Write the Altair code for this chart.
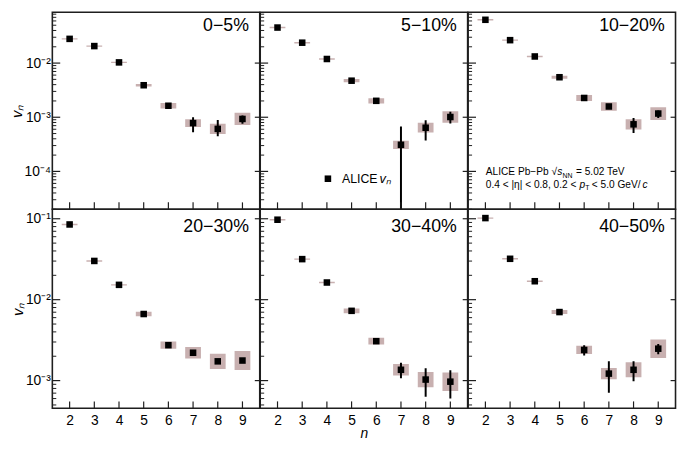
import altair as alt
import pandas as pd

# ---------------- data ----------------
harmonics = [2, 3, 4, 5, 6, 7, 8, 9]
centralities = ["0−5%", "5−10%", "10−20%", "20−30%", "30−40%", "40−50%"]

vn_0_5 = [0.028, 0.0206, 0.0103, 0.0039, 0.00163, 0.00078, 0.00061, 0.00093]
vn_5_10 = [0.0453, 0.0238, 0.0119, 0.00473, 0.00201, 0.00031, 0.00064, 0.00101]
vn_10_20 = [0.063, 0.0265, 0.01325, 0.00548, 0.00227, 0.00158, 0.00074, 0.00117]
vn_20_30 = [0.085, 0.0301, 0.01525, 0.00665, 0.00274, 0.00221, 0.00173, 0.00177]
vn_30_40 = [0.0973, 0.0317, 0.0163, 0.00728, 0.00307, 0.00136, 0.00103, 0.00097]
vn_40_50 = [0.1019, 0.032, 0.0169, 0.00703, 0.00239, 0.00122, 0.00136, 0.00248]

# statistical error bar ends (None = hidden behind the marker)
stat_lo_0_5 = [None, None, None, None, None, 0.00053, 0.000445, 0.00076]
stat_hi_0_5 = [None, None, None, None, None, 0.00100, 0.00089, 0.00108]
stat_lo_5_10 = [None, None, None, None, None, 1e-6, 0.000371, 0.00077]
stat_hi_5_10 = [None, None, None, None, None, 0.000676, 0.00088, 0.00126]
stat_lo_10_20 = [None, None, None, None, None, None, 0.00051, 0.00097]
stat_hi_10_20 = [None, None, None, None, None, None, 0.00097, 0.00133]
stat_lo_20_30 = [None, None, None, None, None, None, None, None]
stat_hi_20_30 = [None, None, None, None, None, None, None, None]
stat_lo_30_40 = [None, None, None, None, None, 0.00107, 0.00063, 0.00060]
stat_hi_30_40 = [None, None, None, None, None, 0.00166, 0.001425, 0.00134]
stat_lo_40_50 = [None, None, None, None, 0.00205, 0.00071, 0.00098, 0.00211]
stat_hi_40_50 = [None, None, None, None, 0.00274, 0.00173, 0.00174, 0.00284]

# relative systematic uncertainty (box half height)
sys_0_5 = [0.03, 0.03, 0.03, 0.05, 0.12, 0.18, 0.24, 0.30]
sys_5_10 = [0.03, 0.03, 0.03, 0.07, 0.12, 0.19, 0.23, 0.28]
sys_10_20 = [0.03, 0.03, 0.03, 0.07, 0.14, 0.20, 0.24, 0.31]
sys_20_30 = [0.02, 0.02, 0.02, 0.066, 0.11, 0.18, 0.24, 0.31]
sys_30_40 = [0.02, 0.02, 0.02, 0.07, 0.10, 0.18, 0.24, 0.30]
sys_40_50 = [0.02, 0.02, 0.02, 0.06, 0.125, 0.17, 0.24, 0.30]

x_tick_values = [2, 3, 4, 5, 6, 7, 8, 9]
top_major = [1e-4, 1e-3, 1e-2]
bot_major = [1e-3, 1e-2, 1e-1]
top_domain = [2.0e-5, 0.087]
bot_domain = [4.55e-4, 0.131]
x_domain = [1.3, 9.7]
mantissas = [2, 3, 4, 5, 6, 7, 8, 9]
exponents = [-5, -4, -3, -2, -1]

vn_all = [vn_0_5, vn_5_10, vn_10_20, vn_20_30, vn_30_40, vn_40_50]
lo_all = [stat_lo_0_5, stat_lo_5_10, stat_lo_10_20, stat_lo_20_30, stat_lo_30_40, stat_lo_40_50]
hi_all = [stat_hi_0_5, stat_hi_5_10, stat_hi_10_20, stat_hi_20_30, stat_hi_30_40, stat_hi_40_50]
sys_all = [sys_0_5, sys_5_10, sys_10_20, sys_20_30, sys_30_40, sys_40_50]

# ---------------- style ----------------
W = 210.5
H_TOP = 200
H_BOT = 202
FONT = "Liberation Sans"
SYS_COLOR = "#c8b0b0"
FRAME = "#1e1e1e"


def minor_values(domain):
    return [m * 10.0 ** e for e in exponents for m in mantissas
            if domain[0] <= m * 10.0 ** e <= domain[1]]


def panel(i):
    row, col = divmod(i, 3)
    H = H_TOP if row == 0 else H_BOT
    domain = top_domain if row == 0 else bot_domain
    major = top_major if row == 0 else bot_major

    df = pd.DataFrame({"n": harmonics, "vn": vn_all[i], "lo": lo_all[i],
                       "hi": hi_all[i], "sys": sys_all[i]})
    df["sys_lo"] = df["vn"] / (1 + df["sys"])
    df["sys_hi"] = df["vn"] * (1 + df["sys"])

    xscale = alt.Scale(domain=x_domain, nice=False, zero=False, padding=0)
    yscale = alt.Scale(type="log", domain=domain, nice=False, padding=0)

    if row == 1:
        xaxis = alt.Axis(values=x_tick_values, ticks=False, domain=False, grid=False,
                         labelFontSize=14, labelPadding=5, labelFont=FONT, labelColor="black",
                         title="n" if col == 1 else None, titleFontSize=14,
                         titleFontStyle="italic", titleFontWeight="normal", titleFont=FONT,
                         titlePadding=0, titleColor="black")
    else:
        xaxis = None
    if col == 0:
        yaxis = alt.Axis(values=major, ticks=False, domain=False, grid=False,
                         labelExpr="'10⁻' + ['', '¹', '²', '³', '⁴', '⁵'][round(-log(datum.value) / LN10)]",
                         labelFontSize=14, labelPadding=2, labelFont=FONT, labelColor="black",
                         title="vₙ", titleFontSize=15, titleFontStyle="italic",
                         titleFontWeight="normal", titleFont=FONT, titlePadding=0,
                         titleColor="black")
    else:
        yaxis = None

    def X(field="n"):
        return alt.X(f"{field}:Q", scale=xscale, axis=xaxis,
                     title="n" if (row == 1 and col == 1) else None)

    def Y(field):
        return alt.Y(f"{field}:Q", scale=yscale, axis=yaxis, title="vₙ" if col == 0 else None)

    base = alt.Chart(df)
    boxes = base.mark_bar(size=16, color=SYS_COLOR, clip=True).encode(
        x=X(), y=Y("sys_lo"), y2="sys_hi:Q")
    stat = base.transform_filter("isValid(datum.lo)").mark_rule(
        strokeWidth=2, color="black", clip=True).encode(x=X(), y=Y("lo"), y2="hi:Q")
    pts = base.mark_point(shape="square", filled=True, size=44, color="black",
                          opacity=1).encode(x=X(), y=Y("vn"))

    xt = alt.Chart(pd.DataFrame({"n": x_tick_values})).mark_rule(
        color=FRAME, strokeWidth=1.2).encode(x=X(), y=alt.value(H), y2=alt.value(H - 7))
    maj_df = alt.Chart(pd.DataFrame({"t": major}))
    yl = maj_df.mark_rule(color=FRAME, strokeWidth=1.2).encode(
        y=Y("t"), x=alt.value(0), x2=alt.value(8))
    yr = maj_df.mark_rule(color=FRAME, strokeWidth=1.2).encode(
        y=Y("t"), x=alt.value(W - 5), x2=alt.value(W))
    ym = alt.Chart(pd.DataFrame({"t": minor_values(domain)})).mark_rule(
        color=FRAME, strokeWidth=1).encode(y=Y("t"), x=alt.value(0), x2=alt.value(4))

    lab = alt.Chart(pd.DataFrame({"label": [centralities[i]]})).mark_text(
        align="right", baseline="alphabetic", fontSize=18, font=FONT, color="black").encode(
        x=alt.value(W - 11), y=alt.value(19 if row == 0 else 23), text="label:N")

    layers = [boxes, stat, pts, xt, yl, yr, ym, lab]

    if i == 1:
        leg_pt = alt.Chart(pd.DataFrame({"k": [1]})).mark_point(
            shape="square", filled=True, size=44, color="black", opacity=1).encode(
            x=alt.value(68.7), y=alt.value(169))
        leg_t1 = alt.Chart(pd.DataFrame({"s": ["ALICE"]})).mark_text(
            align="left", baseline="middle", fontSize=12.5, font=FONT, color="black").encode(
            x=alt.value(83), y=alt.value(169), text="s:N")
        leg_t2 = alt.Chart(pd.DataFrame({"s": ["vₙ"]})).mark_text(
            align="left", baseline="middle", fontSize=13, font=FONT, fontStyle="italic",
            color="black").encode(x=alt.value(121), y=alt.value(169), text="s:N")
        layers += [leg_pt, leg_t1, leg_t2]

    if i == 2:
        def txt(s, x, y, size=10.3, style="normal"):
            return alt.Chart(pd.DataFrame({"s": [s]})).mark_text(
                align="left", baseline="alphabetic", fontSize=size, font=FONT,
                fontStyle=style, color="black").encode(
                x=alt.value(x), y=alt.value(y), text="s:N")
        y1, y2 = 165.5, 178
        layers += [
            txt("ALICE Pb−Pb", 18, y1),
            txt("√", 84.7, y1),
            txt("s", 90.5, y1, 10.3, "italic"),
            txt("NN", 95.8, y1 + 2.5, 7),
            txt("= 5.02 TeV", 109.5, y1),
            txt("0.4 < |η| < 0.8, 0.2 <", 18, y2),
            txt("p", 113, y2, 10.3, "italic"),
            txt("T", 118.8, y2 + 2.5, 7),
            txt("< 5.0 GeV/", 125.5, y2),
            txt("c", 177, y2, 10.3, "italic"),
        ]

    return alt.layer(*layers).properties(width=W, height=H)


panels = [panel(i) for i in range(6)]

chart = alt.concat(*panels, columns=3, spacing=0, bounds="flush", align="each").properties(
    padding={"left": 0, "top": 0, "right": 0, "bottom": 0}
).configure_view(
    stroke=FRAME, strokeWidth=1.6
).configure_axis(grid=False)

chart.save("out.html", embed_options={"renderer": "svg", "actions": False})
